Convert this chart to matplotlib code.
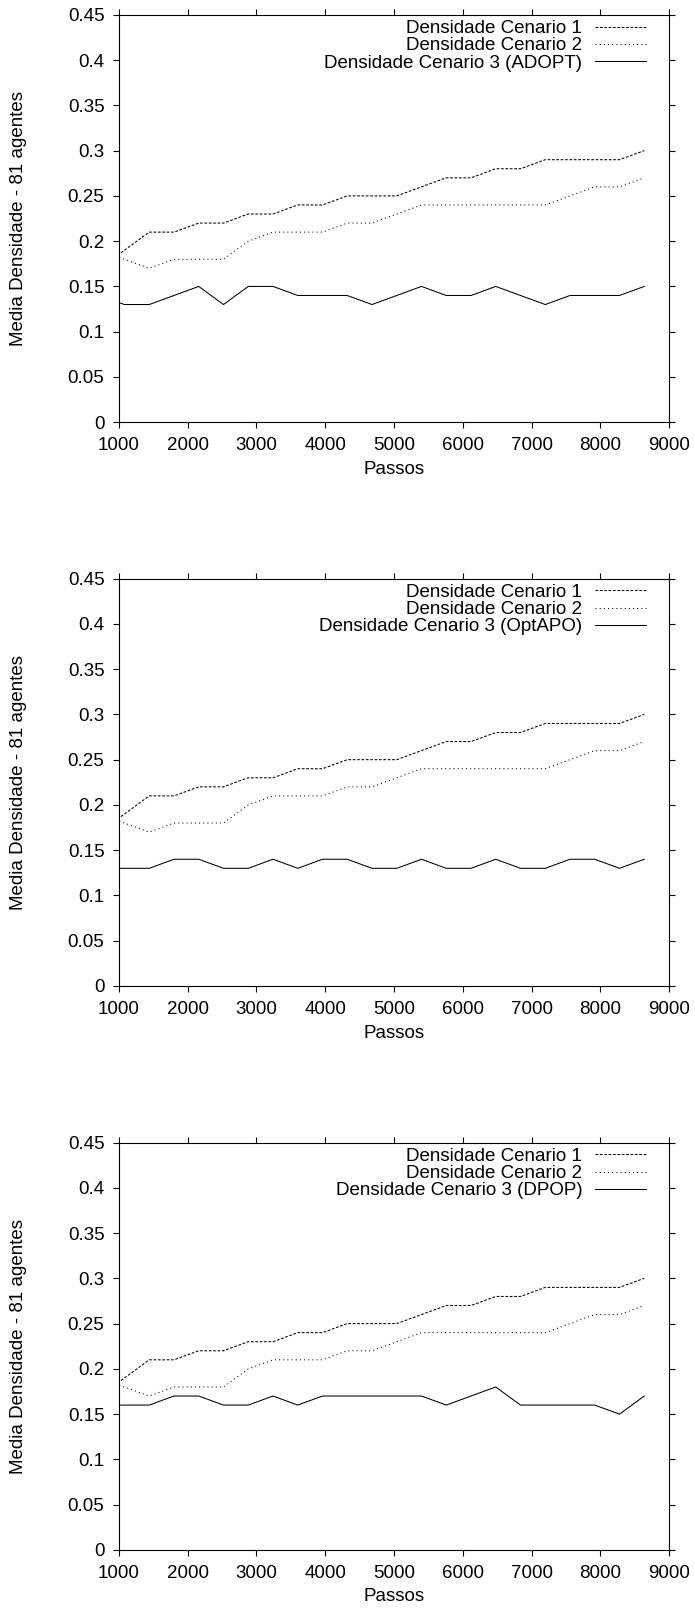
import matplotlib
matplotlib.use('Agg')
import matplotlib.pyplot as plt
from matplotlib.ticker import MultipleLocator, FuncFormatter

plt.rcParams['font.family'] = ['Liberation Sans', 'DejaVu Sans']
plt.rcParams['font.size'] = 13.5

# passos (x) - the first point lies left of the visible range
passos = [720, 1080, 1440, 1800, 2160, 2520, 2880, 3240, 3600, 3960, 4320, 4680,
          5040, 5400, 5760, 6120, 6480, 6840, 7200, 7560, 7920, 8280, 8640]

cenario1 = [0.17, 0.19, 0.21, 0.21, 0.22, 0.22, 0.23, 0.23, 0.24, 0.24, 0.25, 0.25,
            0.25, 0.26, 0.27, 0.27, 0.28, 0.28, 0.29, 0.29, 0.29, 0.29, 0.30]
cenario2 = [0.19, 0.18, 0.17, 0.18, 0.18, 0.18, 0.20, 0.21, 0.21, 0.21, 0.22, 0.22,
            0.23, 0.24, 0.24, 0.24, 0.24, 0.24, 0.24, 0.25, 0.26, 0.26, 0.27]

adopt = [0.14, 0.13, 0.13, 0.14, 0.15, 0.13, 0.15, 0.15, 0.14, 0.14, 0.14, 0.13,
         0.14, 0.15, 0.14, 0.14, 0.15, 0.14, 0.13, 0.14, 0.14, 0.14, 0.15]
optapo = [0.13, 0.13, 0.13, 0.14, 0.14, 0.13, 0.13, 0.14, 0.13, 0.14, 0.14, 0.13,
          0.13, 0.14, 0.13, 0.13, 0.14, 0.13, 0.13, 0.14, 0.14, 0.13, 0.14]
dpop = [0.16, 0.16, 0.16, 0.17, 0.17, 0.16, 0.16, 0.17, 0.16, 0.17, 0.17, 0.17,
        0.17, 0.17, 0.16, 0.17, 0.18, 0.16, 0.16, 0.16, 0.16, 0.15, 0.17]

algoritmos = ['ADOPT', 'OptAPO', 'DPOP']
cenario3 = [adopt, optapo, dpop]

fig = plt.figure(figsize=(6.95, 16.14), dpi=100)
bottoms = [0.7384, 0.3891, 0.0397]


def fmt(v, pos):
    return '%g' % round(v, 2)


for nome, serie, b in zip(algoritmos, cenario3, bottoms):
    ax = fig.add_axes([0.1712, b, 0.7914, 0.2524])
    ax.plot(passos, cenario1, color='black', lw=0.75, dashes=(2.6, 1.6),
            label='Densidade Cenario 1')
    ax.plot(passos, cenario2, color='black', lw=0.75, dashes=(1, 3),
            label='Densidade Cenario 2')
    ax.plot(passos, serie, color='black', lw=0.75,
            label='Densidade Cenario 3 (%s)' % nome)
    ax.set_xlim(1000, 9000)
    ax.set_ylim(0, 0.45)
    ax.xaxis.set_major_locator(MultipleLocator(1000))
    ax.yaxis.set_major_locator(MultipleLocator(0.05))
    ax.yaxis.set_major_formatter(FuncFormatter(fmt))
    ax.tick_params(direction='out', top=True, right=True, length=4.5,
                   width=0.8, pad=6)
    for s in ax.spines.values():
        s.set_linewidth(0.8)
    ax.set_xlabel('Passos', labelpad=5)
    ax.set_ylabel('Media Densidade - 81 agentes')
    ax.yaxis.set_label_coords(-0.168, 0.5)
    ax.legend(loc='upper right', bbox_to_anchor=(0.958, 0.987),
              frameon=False, markerfirst=False, borderpad=0, borderaxespad=0,
              handlelength=2.7, handletextpad=0.7, labelspacing=0.0)

plt.savefig('out.png', dpi=100)
